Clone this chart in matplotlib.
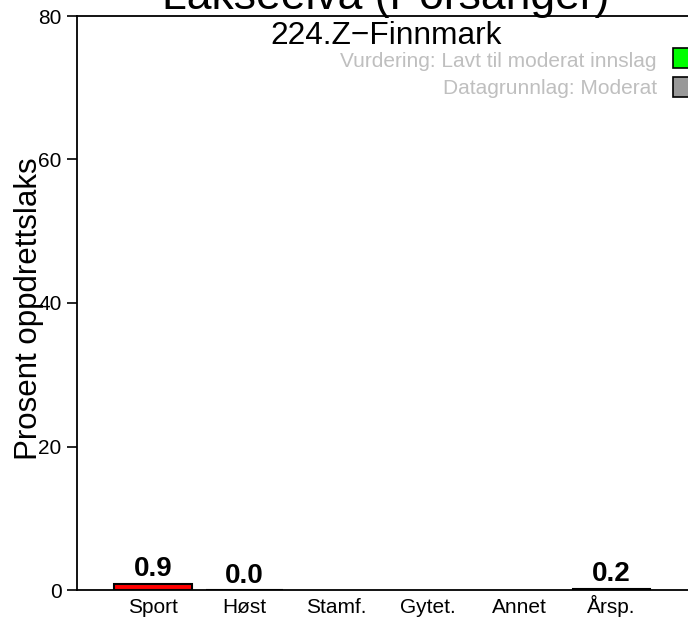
import matplotlib
matplotlib.use("Agg")
import matplotlib.pyplot as plt
from matplotlib.patches import Rectangle

plt.rcParams['font.family'] = ['Liberation Sans', 'DejaVu Sans']

title = "Lakseelva (Porsanger)"
subtitle = "224.Z\u2212Finnmark"
categories = ["Sport", "Høst", "Stamf.", "Gytet.", "Annet", "Årsp."]
values = [0.9, 0.0, None, None, None, 0.2]
bar_colors = ["#FF0000", "#FF0000", "#FF0000", "#FF0000", "#FF0000", "#333333"]
y_ticks = [0, 20, 40, 60, 80]
y_label = "Prosent oppdrettslaks"
legend_labels = ["Vurdering: Lavt til moderat innslag", "Datagrunnlag: Moderat"]
legend_colors = ["#00FF00", "#999999"]

W, H = 688, 618
fig = plt.figure(figsize=(W / 100, H / 100), dpi=100)
ax = fig.add_axes([77 / W, 28 / H, 618 / W, 574 / H])

xs = list(range(len(categories)))
for x, v, c in zip(xs, values, bar_colors):
    if v is None:
        continue
    ax.bar(x, v, width=0.845, color=c, edgecolor="black", linewidth=1.5)
    ax.text(x, v + 1, f"{v:.1f}", ha="center", va="baseline",
            fontsize=20, fontweight="bold")

ax.set_xlim(-0.829, 5.91)
ax.set_ylim(0, 80)
ax.set_yticks(y_ticks)
ax.set_yticklabels([str(t) for t in y_ticks], fontsize=15)
ax.set_xticks(xs)
ax.set_xticklabels(categories, fontsize=15)
for lab in ax.get_xticklabels():
    lab.set_verticalalignment("baseline")
ax.tick_params(axis="x", length=0, pad=16.6)
ax.tick_params(axis="y", length=7, width=1.2, pad=4)
ax.spines["right"].set_visible(False)
for s in ["left", "top", "bottom"]:
    ax.spines[s].set_linewidth(1.3)
ax.set_ylabel(y_label, fontsize=22.5)
ax.yaxis.set_label_coords(-0.054, 0.49)

fig.text(386 / W, 1 - 8.5 / H, title, ha="center", va="baseline", fontsize=32)
fig.text(386 / W, 1 - 44.5 / H, subtitle, ha="center", va="baseline", fontsize=22.8)

for i, (lab, col) in enumerate(zip(legend_labels, legend_colors)):
    fig.text(657 / W, 1 - (67 + 27 * i) / H, lab, ha="right", va="baseline",
             color="#BFBFBF", fontsize=15)
    fig.patches.append(Rectangle((673 / W, 1 - (68 + 29 * i) / H), 20 / W, 20 / H,
                                 transform=fig.transFigure, facecolor=col,
                                 edgecolor="black", linewidth=1.2))

fig.savefig("out.png", dpi=100)
